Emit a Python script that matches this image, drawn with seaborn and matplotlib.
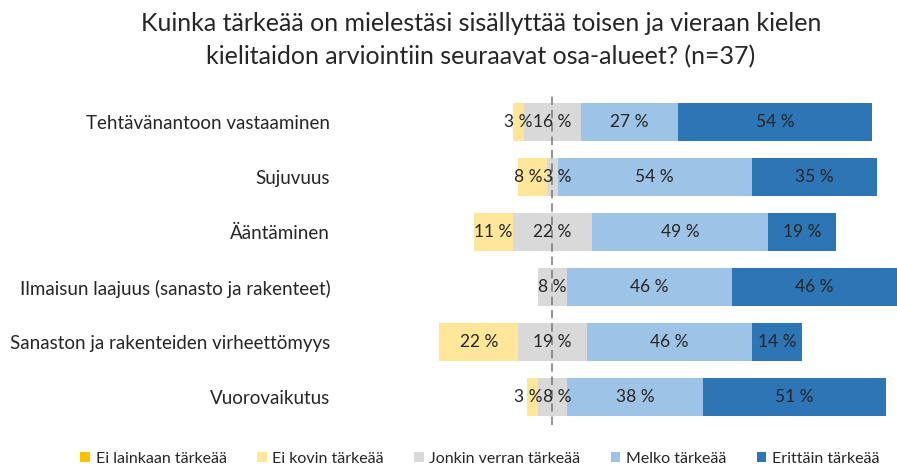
import numpy as np
import pandas as pd
import matplotlib
matplotlib.use("Agg")
import matplotlib.pyplot as plt
from matplotlib.patches import Patch
import seaborn as sns

# Survey areas (top to bottom) and the share of answers per response level, in %
areas = [
    "Tehtävänantoon vastaaminen",
    "Sujuvuus",
    "Ääntäminen",
    "Ilmaisun laajuus (sanasto ja rakenteet)",
    "Sanaston ja rakenteiden virheettömyys",
    "Vuorovaikutus",
]
levels = [
    "Ei lainkaan tärkeää",
    "Ei kovin tärkeää",
    "Jonkin verran tärkeää",
    "Melko tärkeää",
    "Erittäin tärkeää",
]
ei_lainkaan = [0, 0, 0, 0, 0, 0]
ei_kovin = [3, 8, 11, 0, 22, 3]
jonkin_verran = [16, 3, 22, 8, 19, 8]
melko = [27, 54, 49, 46, 46, 38]
erittain = [54, 35, 19, 46, 14, 51]

colors = ["#FFC000", "#FFE699", "#D9D9D9", "#9DC3E6", "#2E75B6"]
text_color = "#262626"

sns.set_theme(style="white")
plt.rcParams["font.family"] = ["Lato", "DejaVu Sans"]

values = np.array([ei_lainkaan, ei_kovin, jonkin_verran, melko, erittain], dtype=float)
# Diverging layout: the neutral level is split evenly around zero
starts = np.zeros_like(values)
cum = -(values[0] + values[1] + values[2] / 2)
for i in range(len(levels)):
    starts[i] = cum
    cum = cum + values[i]

fig = plt.figure(figsize=(8.97, 4.66), dpi=100)
ax = fig.add_axes([340 / 897, 41.5 / 466, 557 / 897, 330 / 466])

for i, level in enumerate(levels):
    df = pd.DataFrame({"area": areas, "value": values[i]})
    sns.barplot(data=df, x="value", y="area", order=areas, orient="y",
                left=starts[i], color=colors[i], width=0.68, saturation=1,
                errorbar=None, ax=ax, linewidth=0)

ax.axvline(0, color="#808080", linestyle=(0, (5, 3)), linewidth=1.2, zorder=4)

ax.set_xlim(-59.2, 96)
ax.set_ylim(5.5, -0.5)
ax.set_xlabel("")
ax.set_ylabel("")
ax.set_xticks([])
ax.tick_params(axis="y", length=0, pad=7, labelsize=13.5, labelcolor=text_color)
for s in ax.spines.values():
    s.set_visible(False)

# Value labels centred on each segment
row_labels = []
for j, area in enumerate(areas):
    row = []
    for i in range(len(levels)):
        v = values[i, j]
        if v > 0:
            t = ax.text(starts[i, j] + v / 2, j, f"{int(v)} %", ha="center", va="center",
                        fontsize=12.5, color=text_color, zorder=5)
            row.append(t)
    row_labels.append(row)

# Push apart labels of narrow neighbouring segments so they do not collide
fig.canvas.draw()
renderer = fig.canvas.get_renderer()
px_per_unit = ax.transData.transform((1, 0))[0] - ax.transData.transform((0, 0))[0]
for row in row_labels:
    for a, b in zip(row[:-1], row[1:]):
        ea = a.get_window_extent(renderer)
        eb = b.get_window_extent(renderer)
        overlap = ea.x1 - eb.x0
        if overlap > 0:
            shift = overlap / 2 / px_per_unit
            xa, ya = a.get_position()
            xb, yb = b.get_position()
            a.set_position((xa - shift, ya))
            b.set_position((xb + shift, yb))

fig.text(0.536, 0.975, "Kuinka tärkeää on mielestäsi sisällyttää toisen ja vieraan kielen\n"
         "kielitaidon arviointiin seuraavat osa-alueet? (n=37)",
         ha="center", va="top", fontsize=18, color=text_color, linespacing=1.55)

handles = [Patch(facecolor=c, edgecolor="none") for c in colors]
fig.legend(handles, levels, loc="center", bbox_to_anchor=(0.535, 0.016), ncol=5,
           frameon=False, fontsize=11.5, handlelength=0.6, handleheight=0.6,
           handletextpad=0.35, columnspacing=1.9, labelcolor=text_color,
           borderaxespad=0, borderpad=0)

fig.savefig("out.png", dpi=100)
